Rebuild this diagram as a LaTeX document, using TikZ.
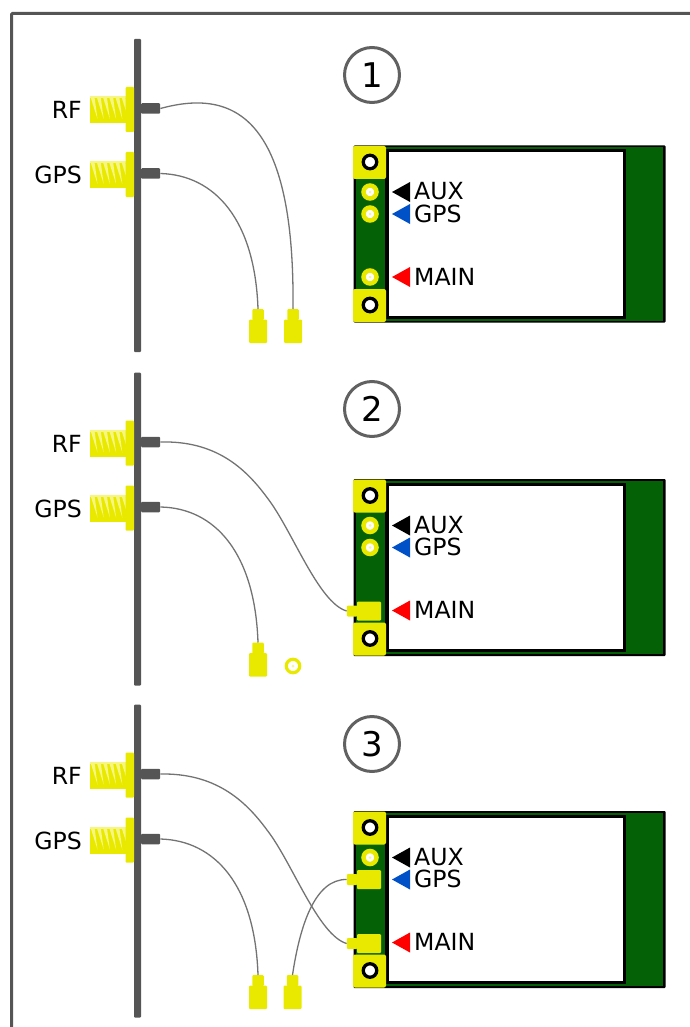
\documentclass[tikz,border=0pt]{standalone}
\usepackage{fontspec}
\setmainfont{DejaVu Sans}
\definecolor{pinyellow}{HTML}{E9E900}
\definecolor{threadlight}{HTML}{F6F680}
\definecolor{panelgray}{HTML}{555555}
\definecolor{pcbgreen}{HTML}{056105}
\definecolor{gpsblue}{HTML}{0050C8}
\tikzset{
  lbl/.style={inner sep=0pt,font=\fontsize{23.6}{26}\selectfont},
  metal/.style={fill=panelgray,draw=none,rounded corners=1pt},
  pin/.style={fill=pinyellow,draw=none,rounded corners=1pt},
  cable/.style={draw=black!55,line width=1.3pt},
  socket/.style={circle,draw=pinyellow,fill=white,inner sep=0pt},
}
\begin{document}
\begin{tikzpicture}[x=1pt,y=-1pt]
  \useasboundingbox (0,0) rectangle (689,1027);
  \draw[panelgray,line width=3pt,rounded corners=1pt] (11.5,1030) -- (11.5,13.5) -- (692,13.5);
  \foreach \p/\off/\numy in {1/0/75,2/333.5/75.5,3/665.5/78.5} {
    \begin{scope}[shift={(0,\off)}]
      % panel
      \fill[metal] (134,39) rectangle (141,352);
      \foreach \c/\d/\t in {rf/0/RF,gps/65/GPS} {
        \begin{scope}[shift={(0,\d)}]
          \fill[pinyellow] (90,96) rectangle (127,123);
          \fill[threadlight] (90,96) rectangle (127,98.5);
          \foreach \i in {0,...,5}
            \fill[threadlight] (90.5+6.2*\i,97) -- (94.5+6.2*\i,97) -- (97.5+6.2*\i,119) -- cycle;
          \fill[pin] (125.5,87) rectangle (134,132);
        \end{scope}
        \node[metal,minimum width=19pt,minimum height=10.5pt,inner sep=0pt,anchor=west]
          (\c stub\p) at (141,108.5+\d) {};
        \node[lbl,anchor=east] (\c lbl\p) at (82,110+\d) {\t};
      }
      % number
      \node[circle,draw=black!62,line width=3pt,fill=white,minimum size=55pt,inner sep=0pt,
        font=\fontsize{34}{36}\selectfont] (num\p) at (372,\numy) {\p};
      % module
      \fill[black,rounded corners=1pt] (353.5,145.5) rectangle (665.5,322.5);
      \fill[pcbgreen] (356,147.5) rectangle (663,320.5);
      \fill[black] (385,149) rectangle (625.5,318.5);
      \fill[white] (388.5,152) rectangle (623,315.5);
      \foreach \n/\y in {a/162,b/305} {
        \fill[pin,rounded corners=2pt] (353,\y-16) rectangle (386,\y+17);
        \node[circle,draw=black,line width=3.3pt,fill=white,minimum size=13.5pt,inner sep=0pt]
          (hole\n\p) at (370,\y) {};
      }
      \foreach \n/\y/\t/\col in {aux/192/AUX/black,gps/214/GPS/gpsblue,main/277/MAIN/red} {
        \fill[\col] (392,\y) -- (410,\y-10) -- (410,\y+10) -- cycle;
        \node[lbl,anchor=base west] (\n txt\p) at (414,\y+8) {\t};
      }
    \end{scope}
  }
  % sockets left open
  \foreach \n/\y in {a1/192,b1/214,c1/277,a2/525.5,b2/547.5,a3/857.5} {
    \node[socket,line width=4.5pt,minimum size=13pt] (sock\n) at (370,\y) {};
    \fill[pinyellow!40] (sock\n) circle (1.5);
  }
  \node[socket,line width=3.2pt,minimum size=13.5pt] (sockfree) at (293,666) {};
  \fill[pinyellow!40] (sockfree) circle (1.5);
  % plugs hanging free
  \foreach \n/\x/\y in {gpsone/258/309,rfone/293/309,gpstwo/258/642.5,gpsthr/258/975,auxthr/292.5/975} {
    \fill[pin] (\x-9,\y+10.5) rectangle (\x+9,\y+34);
    \node[pin,minimum width=11.5pt,minimum height=11pt,inner sep=0pt,anchor=north] (\n) at (\x,\y) {};
  }
  % plugs on the module
  \foreach \n/\y in {maintwo/611,mainthr/943.5,auxplug/879.5} {
    \fill[pin] (357,\y-9.5) rectangle (381,\y+9.5);
    \node[pin,minimum width=10.5pt,minimum height=11pt,inner sep=0pt,anchor=east] (\n) at (357.5,\y) {};
  }
  % cables
  \draw[cable] (rfstub1.east) .. controls (235,88) and (295,118) .. (rfone.north);
  \draw[cable] (gpsstub1.east) .. controls (215,175) and (255,220) .. (gpsone.north);
  \coordinate (bendtwo) at (267,497.5);
  \coordinate (bendthr) at (267,830);
  \draw[cable] (rfstub2.east) .. controls (215,440.5) and (245,467.5) .. (bendtwo)
    .. controls (292,529.5) and (318,602.5) .. (maintwo.west);
  \draw[cable] (gpsstub2.east) .. controls (215,508) and (255,553) .. (gpstwo.north);
  \draw[cable] (rfstub3.east) .. controls (215,773) and (245,800) .. (bendthr)
    .. controls (292,862) and (318,935) .. (mainthr.west);
  \draw[cable] (gpsstub3.east) .. controls (215,840.5) and (255,885) .. (gpsthr.north);
  \draw[cable] (auxplug.west) .. controls (315,879) and (300,925) .. (auxthr.north);
\end{tikzpicture}
\end{document}
